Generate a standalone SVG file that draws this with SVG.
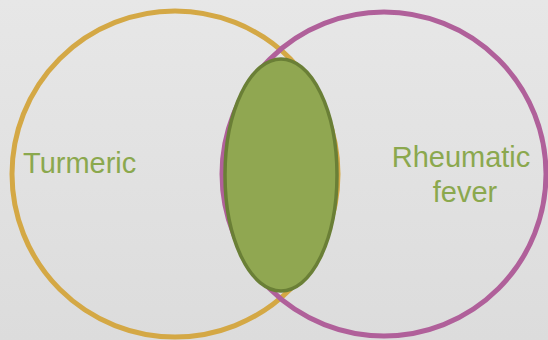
<svg xmlns="http://www.w3.org/2000/svg" width="548" height="340" viewBox="0 0 548 340">
  <defs>
    <linearGradient id="bg" x1="0" y1="0" x2="0" y2="1">
      <stop offset="0" stop-color="#E7E7E7"/>
      <stop offset="1" stop-color="#DCDCDC"/>
    </linearGradient>
    <style>
      .set { fill: none; stroke-width: 5; }
      .label { font-family: "Liberation Sans", Arial, sans-serif; font-size: 29px; fill: #8BA84E; }
    </style>
  </defs>
  <rect x="0" y="0" width="548" height="340" fill="url(#bg)"/>
  <g id="turmeric">
    <circle class="set" cx="175" cy="174" r="163" stroke="#D4A845"/>
    <text class="label" x="23" y="173">Turmeric</text>
  </g>
  <g id="rheumatic-fever">
    <circle class="set" cx="384" cy="174" r="162" stroke="#B0609A"/>
    <text class="label" x="461" y="167" text-anchor="middle">Rheumatic</text>
    <text class="label" x="465" y="202" text-anchor="middle">fever</text>
  </g>
  <g id="overlap">
    <ellipse cx="281" cy="175" rx="56" ry="116" fill="#90A751" stroke="#6A7F36" stroke-width="3.5"/>
  </g>
  <g id="connectors"/>
</svg>
